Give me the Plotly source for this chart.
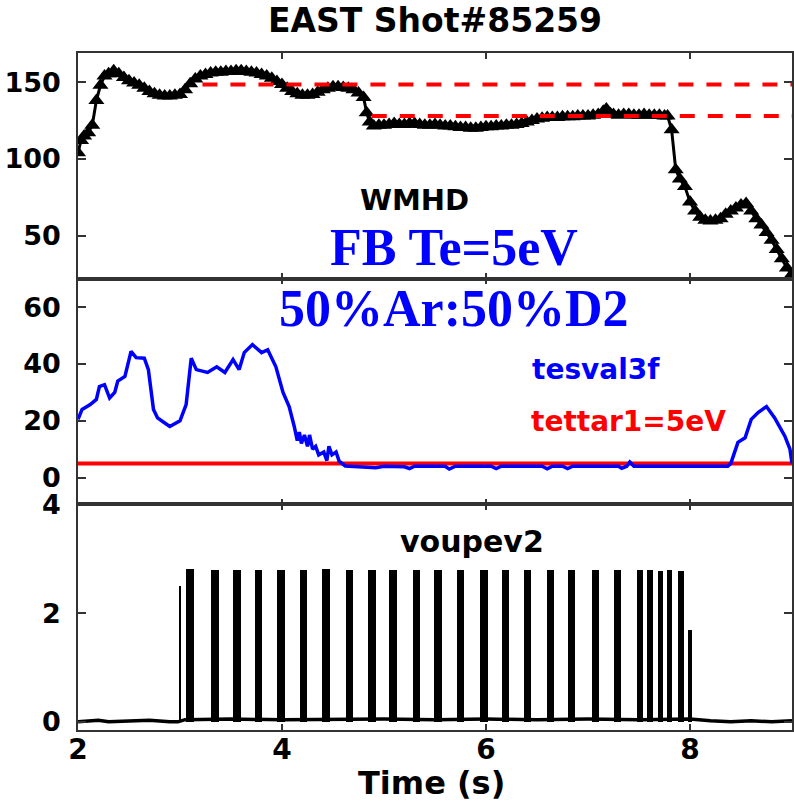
import plotly.graph_objects as go
from plotly.subplots import make_subplots

# ---------------- data ----------------
wmhd_t = [2.0, 2.03, 2.06, 2.1, 2.14, 2.18, 2.22, 2.26, 2.3, 2.35, 2.4, 2.45, 2.5, 2.55, 2.6, 2.65, 2.7,
          2.75, 2.8, 2.85, 2.9, 2.95, 3.0, 3.05, 3.1, 3.15, 3.2, 3.25, 3.3, 3.35, 3.4, 3.45, 3.5, 3.55,
          3.6, 3.65, 3.7, 3.75, 3.8, 3.85, 3.9, 3.95, 4.0, 4.05, 4.1, 4.15, 4.2, 4.25, 4.3, 4.35, 4.4,
          4.45, 4.5, 4.55, 4.6, 4.65, 4.7, 4.75, 4.8, 4.83, 4.86, 4.9, 4.95,
          5.0, 5.05, 5.1, 5.15, 5.2, 5.25, 5.3, 5.35, 5.4, 5.45, 5.5, 5.55, 5.6, 5.65, 5.7, 5.75, 5.8,
          5.85, 5.9, 5.95, 6.0, 6.05, 6.1, 6.15, 6.2, 6.25, 6.3, 6.35, 6.4, 6.45, 6.5, 6.55, 6.6, 6.65,
          6.7, 6.75, 6.8, 6.85, 6.9, 6.95, 7.0, 7.05, 7.1, 7.15, 7.18, 7.22, 7.25, 7.3, 7.35, 7.4, 7.45,
          7.5, 7.55, 7.6, 7.65, 7.7, 7.75, 7.78, 7.82, 7.86, 7.9, 7.95, 8.0, 8.05, 8.1, 8.15, 8.2, 8.25,
          8.3, 8.35, 8.4, 8.45, 8.5, 8.55, 8.6, 8.65, 8.7, 8.75, 8.8, 8.85, 8.9, 8.95, 9.0]
wmhd = [104, 112, 115, 117, 122, 138, 148, 154, 155.5, 157.5, 155.5, 153, 151, 149.5, 148, 146, 144,
        142.5, 141.5, 141, 141, 141.5, 142, 145, 149, 152, 154, 155, 156, 156.5, 156.5, 157, 157, 157.5,
        157.5, 157, 156.5, 156, 155, 154, 152.5, 150.5, 148.5, 146, 144, 142.5, 141.5, 141.5, 142, 143.5, 145,
        146, 147, 147, 146.5, 146, 145, 143, 140, 130, 124, 121.5, 122,
        122, 122.5, 123, 122.5, 122.5, 123, 123, 122.5, 122, 122, 122.5, 122, 121.5, 121.5, 121, 120.5, 120.5,
        120, 120, 120.5, 121, 121, 121.5, 121.5, 122, 122, 122.5, 123, 124, 125, 126, 126.5, 127, 127,
        127, 127.5, 127.5, 127.5, 128, 128, 128, 128.5, 129, 131, 132.5, 129.5, 129, 128.5, 129, 129, 128.5,
        128.5, 129, 128.5, 128.5, 128.5, 128, 128, 119, 93, 87, 82, 72, 66, 62, 60, 59.5, 60,
        61, 64, 66, 68, 70, 71, 66, 61, 57, 52, 47, 41, 35, 29, 25]

ref_start = [3.22, 4.88]
ref_level = [148.5, 128]

te_t = [2.0, 2.04, 2.12, 2.18, 2.21, 2.26, 2.31, 2.36, 2.39, 2.46, 2.52, 2.57, 2.65, 2.69, 2.74, 2.78,
        2.84, 2.9, 3.0, 3.06, 3.11, 3.16, 3.27, 3.36, 3.44, 3.52, 3.58, 3.63, 3.71, 3.8, 3.86, 3.94,
        4.01, 4.07, 4.12, 4.15, 4.17, 4.19, 4.22, 4.25, 4.27, 4.3, 4.33, 4.36, 4.41, 4.44, 4.46, 4.49,
        4.53, 4.56, 4.62, 4.92, 5.0, 5.2, 5.25, 5.3, 5.6, 5.64, 5.7, 6.05, 6.1, 6.15, 6.55, 6.6, 6.65,
        6.75, 6.8, 6.85, 7.3, 7.33, 7.38, 7.41, 7.45, 8.0, 8.37, 8.4, 8.47, 8.54, 8.6, 8.67, 8.75,
        8.83, 8.93, 8.98, 9.0]
te = [20.5, 24, 25.7, 27.5, 32, 32.7, 28, 30, 34, 35.6, 44.4, 42.2, 42, 38, 24, 21,
      19.5, 18, 20, 25.7, 42, 38, 37, 39, 37, 41.5, 38, 44, 46.8, 44, 45, 39,
      30, 25, 18, 13, 16, 12, 15, 11, 15, 10, 11, 8, 9, 6, 11, 8,
      9, 5.8, 4.1, 3.5, 4, 3.8, 3.2, 4, 4, 3.0, 4, 4, 3.2, 4, 4, 3.1, 4,
      4, 3.2, 4, 4, 3.3, 4, 5.5, 4, 4, 4, 5, 12.4, 14, 20.5, 23, 25,
      21, 14.6, 10, 5]
tettar1 = 5

spike_t = [3.0, 3.10, 3.34, 3.56, 3.77, 3.99, 4.21, 4.43, 4.66, 4.88, 5.09, 5.32, 5.53, 5.75, 5.98,
           6.19, 6.41, 6.63, 6.84, 7.07, 7.29, 7.51, 7.61, 7.71, 7.80, 7.91, 8.00]
spike_h = [2.5, 2.8, 2.78, 2.78, 2.78, 2.78, 2.78, 2.8, 2.78, 2.78, 2.78, 2.78, 2.78, 2.78, 2.78,
           2.78, 2.78, 2.78, 2.78, 2.78, 2.78, 2.78, 2.78, 2.76, 2.78, 2.76, 1.68]
spike_w = [0.025, 0.075, 0.075, 0.075, 0.075, 0.075, 0.075, 0.075, 0.075, 0.075, 0.075, 0.075, 0.07,
           0.07, 0.075, 0.07, 0.07, 0.07, 0.065, 0.07, 0.065, 0.06, 0.055, 0.055, 0.055, 0.055, 0.045]
base_t = [2.0, 2.2, 2.3, 2.5, 2.7, 2.9, 2.98, 3.05, 3.5, 4.0, 4.5, 5.0, 5.5, 6.0, 6.5, 7.0, 7.5, 8.0,
          8.2, 8.4, 8.6, 8.8, 9.0]
base_v = [0.0, 0.03, 0.0, 0.02, 0.03, 0.0, 0.0, 0.04, 0.05, 0.04, 0.05, 0.05, 0.04, 0.05, 0.04,
          0.05, 0.04, 0.05, 0.02, 0.0, 0.02, 0.0, 0.02]

# ---------------- figure ----------------
fig = make_subplots(rows=3, cols=1, shared_xaxes=True, vertical_spacing=0)

fig.add_trace(go.Scatter(x=wmhd_t, y=wmhd, mode="lines+markers",
                         line=dict(color="black", width=3),
                         marker=dict(symbol="triangle-up", size=14, color="black")), row=1, col=1)
for s, lv in zip(ref_start, ref_level):
    fig.add_trace(go.Scatter(x=[s, 9.0], y=[lv, lv], mode="lines",
                             line=dict(color="#ff0000", width=4, dash="15px,13px")), row=1, col=1)

fig.add_trace(go.Scatter(x=[2.0, 9.0], y=[tettar1, tettar1], mode="lines",
                         line=dict(color="#ff0000", width=4)), row=2, col=1)
fig.add_trace(go.Scatter(x=te_t, y=te, mode="lines",
                         line=dict(color="#0000ff", width=3.5)), row=2, col=1)

fig.add_trace(go.Scatter(x=base_t, y=base_v, mode="lines",
                         line=dict(color="black", width=3.5)), row=3, col=1)
fig.add_trace(go.Bar(x=spike_t, y=spike_h, width=spike_w, marker=dict(color="black", line=dict(width=0))),
              row=3, col=1)

tick_font = dict(family="DejaVu Sans", size=27, color="black", weight="bold")
axis_common = dict(showline=True, linecolor="#333333", linewidth=1.5, mirror="ticks",
                   ticks="inside", tickcolor="#333333", showgrid=False, zeroline=False)

for r in (1, 2, 3):
    fig.update_xaxes(range=[2, 9], tickvals=[2, 4, 6, 8], ticklen=6, tickwidth=1.5,
                     tickfont=dict(family="DejaVu Sans", size=28, color="black", weight="bold"),
                     **axis_common, row=r, col=1)
fig.update_xaxes(showticklabels=False, row=1, col=1)
fig.update_xaxes(showticklabels=False, row=2, col=1)
fig.update_xaxes(ticklabelstandoff=-6, row=3, col=1)

fig.update_yaxes(range=[22, 169], tickvals=[50, 100, 150], row=1, col=1)
fig.update_yaxes(range=[-9.4, 70], tickvals=[0, 20, 40, 60], row=2, col=1)
fig.update_yaxes(range=[-0.15, 4], tickvals=[0, 2, 4], row=3, col=1)
fig.update_yaxes(ticklen=8, tickwidth=1.5, tickfont=tick_font, ticklabelstandoff=10, **axis_common)

bold = dict(family="DejaVu Sans", weight="bold")
annots = [
    dict(text="EAST Shot#85259", xref="paper", yref="paper", x=0.5, y=1.0487,
         font=dict(size=33, color="black", **bold)),
    dict(text="WMHD", xref="x", yref="y", x=5.30, y=73.4, font=dict(size=29, color="black", **bold)),
    dict(text="FB Te=5eV", xref="x", yref="y", x=5.69, y=42.5,
         font=dict(family="Liberation Serif", size=52, color="#0000ff", weight="bold")),
    dict(text="50%Ar:50%D2", xref="x2", yref="y2", x=5.69, y=59.6,
         font=dict(family="Liberation Serif", size=52, color="#0000ff", weight="bold")),
    dict(text="tesval3f", xref="x2", yref="y2", x=7.08, y=38, font=dict(size=28, color="#0000ff", **bold)),
    dict(text="tettar1=5eV", xref="x2", yref="y2", x=7.40, y=19.8, font=dict(size=28, color="#ff0000", **bold)),
    dict(text="voupev2", xref="x3", yref="y3", x=5.86, y=3.31, font=dict(size=30, color="black", **bold)),
    dict(text="Time (s)", xref="paper", yref="paper", x=0.495, y=-0.078,
         font=dict(size=32, color="black", **bold)),
]
for a in annots:
    fig.add_annotation(showarrow=False, xanchor="center", yanchor="middle", **a)

fig.update_layout(width=794, height=802, margin=dict(l=78, r=0, t=53, b=72),
                  paper_bgcolor="white", plot_bgcolor="white", showlegend=False, bargap=0)

fig.write_html("out.html")
